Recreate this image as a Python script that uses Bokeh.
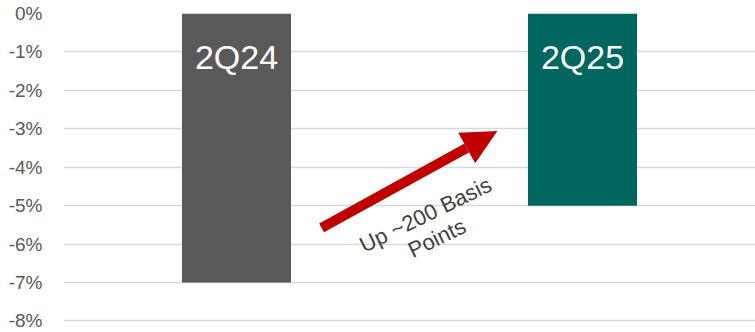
from bokeh.plotting import figure
from bokeh.models import Range1d, FixedTicker, ColumnDataSource, Arrow, NormalHead
from bokeh.core.properties import value
from bokeh.embed import file_html
from bokeh.resources import INLINE
import math

# ---- data ----
categories = ["2Q24", "2Q25"]
values = [-7.0, -5.0]
bar_colors = ["#595959", "#00665F"]
tick_values = [0, -1, -2, -3, -4, -5, -6, -7, -8]
tick_labels = ["0%", "-1%", "-2%", "-3%", "-4%", "-5%", "-6%", "-7%", "-8%"]
annotation_lines = ["Up ~200 Basis", "Points"]

# ---- layout constants ----
x_pos = [i + 0.5 for i in range(len(categories))]
BAR_WIDTH = 0.315
LABEL_Y = -1.12
ARROW_START = (0.746, -5.58)
ARROW_END = (1.254, -3.06)
TEXT_X = [1.046, 1.079]
TEXT_Y = [-5.234, -5.844]
TEXT_ANGLE = math.radians(26)

p = figure(width=755, height=332, output_backend="svg", toolbar_location=None,
           x_range=Range1d(0, 2), y_range=Range1d(-8.04, 0),
           min_border_left=63, min_border_right=0, min_border_top=13, min_border_bottom=10)
p.outline_line_color = None
p.background_fill_color = "white"
p.border_fill_color = "white"

p.xaxis.visible = False
p.xgrid.visible = False
p.ygrid.grid_line_color = "#d9d9d9"
p.ygrid.grid_line_width = 1.4

p.yaxis.ticker = FixedTicker(ticks=tick_values)
p.yaxis.major_label_overrides = {v: l for v, l in zip(tick_values, tick_labels)}
p.yaxis.axis_line_color = None
p.yaxis.major_tick_line_color = None
p.yaxis.minor_tick_line_color = None
p.yaxis.major_tick_out = 0
p.yaxis.major_label_standoff = 21
p.yaxis.major_label_text_font = "Liberation Sans"
p.yaxis.major_label_text_font_size = "19px"
p.yaxis.major_label_text_color = "#595959"

src = ColumnDataSource(dict(x=x_pos, top=[0] * len(values), bottom=values,
                            color=bar_colors, label=categories,
                            ly=[LABEL_Y] * len(values)))
p.vbar(x="x", width=BAR_WIDTH, top="top", bottom="bottom", fill_color="color",
       line_color=None, source=src)
p.text(x="x", y="ly", text="label", source=src, text_align="center",
       text_baseline="alphabetic", text_color="white",
       text_font=value("Liberation Sans"), text_font_size="34px")

arrow = Arrow(end=NormalHead(size=35, fill_color="#C00000", line_color="#C00000", line_width=0),
              x_start=ARROW_START[0], y_start=ARROW_START[1],
              x_end=ARROW_END[0], y_end=ARROW_END[1],
              line_color="#C00000", line_width=10)
p.add_layout(arrow)

p.text(x=TEXT_X, y=TEXT_Y, text=annotation_lines, angle=TEXT_ANGLE,
       text_align="center", text_baseline="middle", text_color="#404040",
       text_font=value("Liberation Sans"), text_font_size="22px")

open("out.html", "w").write(file_html(p, INLINE))
